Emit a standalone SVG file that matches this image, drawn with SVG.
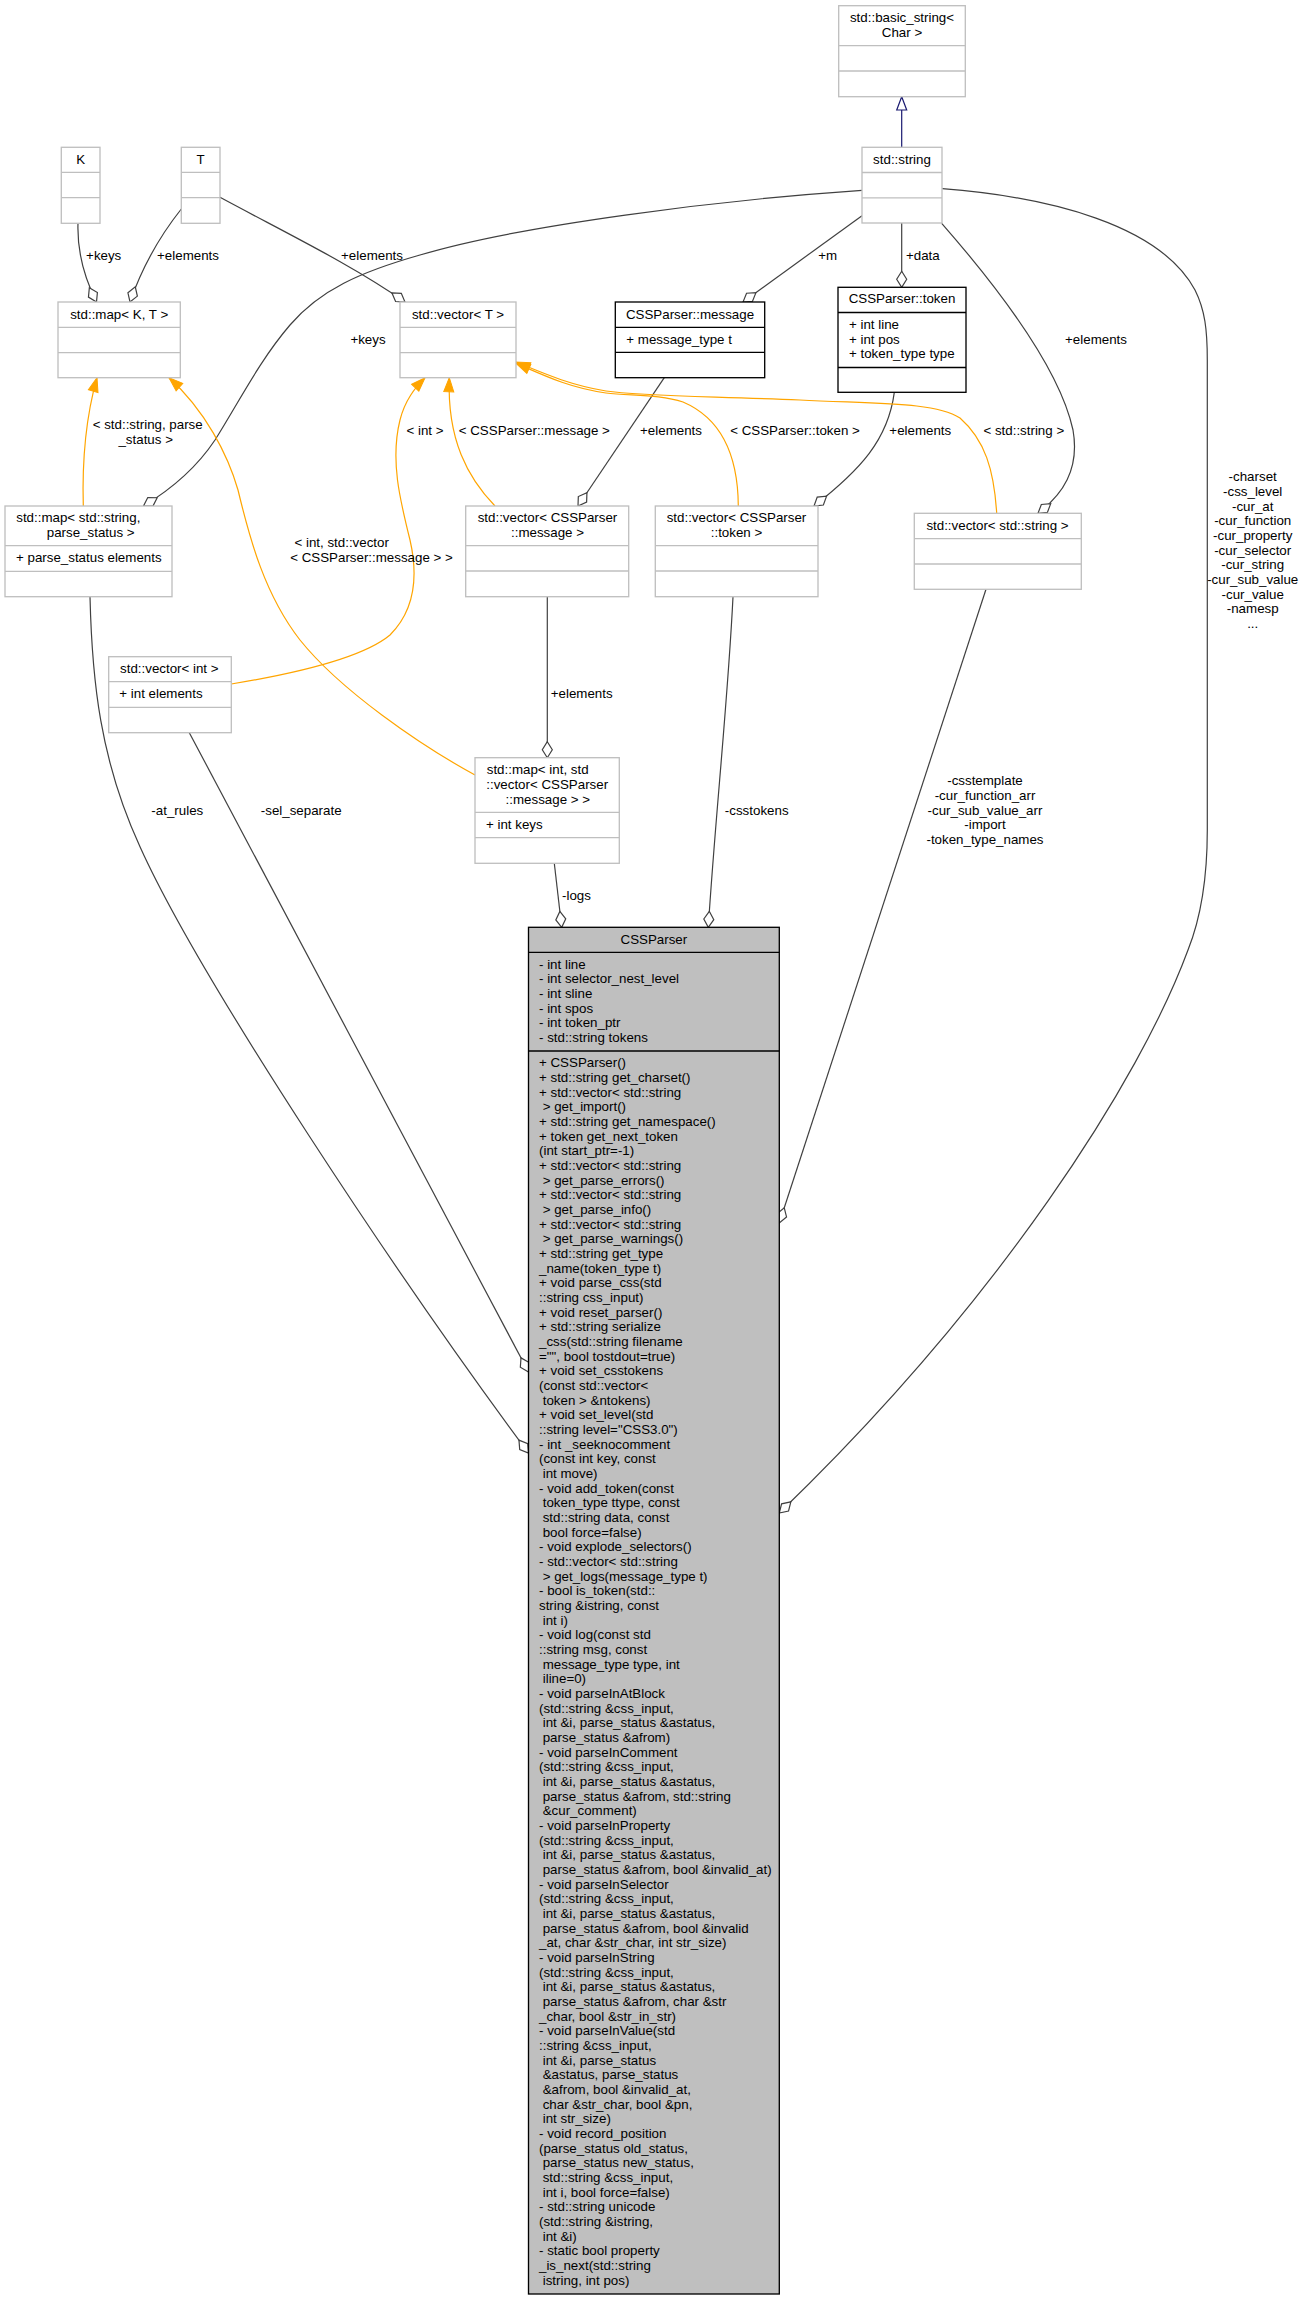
<svg xmlns="http://www.w3.org/2000/svg" width="1302" height="2300" viewBox="0 0 1302 2300">
<style>
text{font-family:"Liberation Sans",Arial,Helvetica,sans-serif;font-size:13.33px;fill:#000}
.m{text-anchor:middle}
.box{fill:#fff;stroke:#bfbfbf;stroke-width:1.33}
.sep{stroke:#bfbfbf;stroke-width:1.33}
.dbox{fill:#fff;stroke:#000;stroke-width:1.33}
.dsep{stroke:#000;stroke-width:1.33}
.mbox{fill:#bfbfbf;stroke:#000;stroke-width:1.33}
.e{fill:none;stroke:#404040;stroke-width:1.2;marker-end:url(#odiamond)}
.t{fill:none;stroke:#ffa500;stroke-width:1.2;marker-end:url(#oarrow)}
.i{fill:none;stroke:#191970;stroke-width:1.2;marker-end:url(#inh)}
</style>
<defs>
<marker id="odiamond" markerUnits="userSpaceOnUse" viewBox="-1 -6 18 12" markerWidth="18" markerHeight="12" refX="16" refY="0" orient="auto" overflow="visible"><path d="M0,0 L8,-5 L16,0 L8,5 Z" fill="#fff" stroke="#404040" stroke-width="1.2"/></marker>
<marker id="oarrow" markerUnits="userSpaceOnUse" viewBox="0 -6 15 12" markerWidth="15" markerHeight="12" refX="14" refY="0" orient="auto" overflow="visible"><path d="M0,-5 L14,0 L0,5 Z" fill="#ffa500" stroke="#ffa500" stroke-width="1"/></marker>
<marker id="inh" markerUnits="userSpaceOnUse" viewBox="0 -6 15 12" markerWidth="15" markerHeight="12" refX="13.3" refY="0" orient="auto" overflow="visible"><path d="M0,-5 L13.3,0 L0,5 Z" fill="#fff" stroke="#191970" stroke-width="1.2"/></marker>
</defs>
<rect width="1302" height="2300" fill="#fff"/>
<g id="connectors">
<path class="i" d="M901.7,147.3 L901.7,96.7"/>
<path class="e" d="M78,223.3 C77,252 84,277 96.5,302"/>
<path class="e" d="M181.3,209 C163,232 144,262 130,302"/>
<path class="e" d="M220,197.3 C290,235 352,265 405,302"/>
<path class="e" d="M862,190.3 C720,200 520,225 420,255 C360,272 320,290 290,325 C260,360 240,400 215,440 C195,470 170,490 143.5,506"/>
<path class="e" d="M862,215.7 L743,302"/>
<path class="e" d="M901.7,223 L901.7,287.3"/>
<path class="e" d="M941.7,223.3 C1000,290 1060,370 1073,430 C1080,470 1062,495 1038,513.3"/>
<path class="e" d="M942.3,188.7 C1050,197 1160,225 1195,290 C1205,310 1207.3,330 1207.3,360 L1207.3,830 C1207.3,880 1200,920 1188,950 C1140,1080 1000,1300 779.3,1513"/>
<path class="e" d="M986,589.3 L779.3,1223"/>
<path class="e" d="M733,596.7 C728,700 715,820 708.3,927.3"/>
<path class="e" d="M554.3,863.3 L561.7,927.3"/>
<path class="e" d="M547.3,596.7 L547.3,757.7"/>
<path class="e" d="M664.3,377.7 L578,506"/>
<path class="e" d="M894.3,392.3 C888,440 860,470 814,506"/>
<path class="e" d="M90,596.7 C92,680 100,760 140,846.7 C200,980 400,1280 528.5,1453"/>
<path class="e" d="M189.3,732.7 L528.5,1372"/>
<path class="t" d="M83.3,506 C82,460 85,420 97,377.7"/>
<path class="t" d="M475,775 C420,745 340,690 300,640 C265,595 250,540 238,490 C228,455 205,410 169,377.7"/>
<path class="t" d="M231.3,684 C280,676 360,660 390,635 C415,610 418,575 410,540 C400,500 390,460 400,420 C405,400 415,388 425,377.7"/>
<path class="t" d="M495,506 C468,478 447,440 449.3,377.7"/>
<path class="t" d="M738.3,506 C738,460 725,420 683,402 C660,394 630,396 606,393 C570,388 545,376 516,363.3"/>
<path class="t" d="M996.7,513.3 C994,470 985,440 960,418 C935,402 880,404 800,400 C700,396 640,396 606,391 C570,385 545,374 516,362"/>
<text class="m" x="103.7" y="259.5">+keys</text>
<text class="m" x="188" y="259.5">+elements</text>
<text class="m" x="372" y="259.5">+elements</text>
<text class="m" x="368" y="343.5">+keys</text>
<text class="m" x="827.7" y="259.5">+m</text>
<text x="906" y="259.5">+data</text>
<text class="m" x="1096" y="343.5">+elements</text>
<text class="m" x="147.7" y="428.5">&lt; std::string, parse</text>
<text class="m" x="145.7" y="443.5">_status &gt;</text>
<text class="m" x="425" y="435.2">&lt; int &gt;</text>
<text class="m" x="534.3" y="435.2">&lt; CSSParser::message &gt;</text>
<text class="m" x="671" y="435.2">+elements</text>
<text class="m" x="795" y="435.2">&lt; CSSParser::token &gt;</text>
<text class="m" x="920.3" y="435.2">+elements</text>
<text class="m" x="1023.8" y="435.2">&lt; std::string &gt;</text>
<text class="m" x="341.7" y="547.2">&lt; int, std::vector</text>
<text class="m" x="371.5" y="562.2">&lt; CSSParser::message &gt; &gt;</text>
<text class="m" x="581.7" y="698.2">+elements</text>
<text class="m" x="177.3" y="814.5">-at_rules</text>
<text class="m" x="301.2" y="814.5">-sel_separate</text>
<text class="m" x="756.7" y="814.5">-csstokens</text>
<text class="m" x="576.5" y="899.5">-logs</text>
<text class="m" y="785.2"><tspan x="985">-csstemplate</tspan><tspan x="985" dy="14.667">-cur_function_arr</tspan><tspan x="985" dy="14.667">-cur_sub_value_arr</tspan><tspan x="985" dy="14.667">-import</tspan><tspan x="985" dy="14.667">-token_type_names</tspan></text>
<text class="m" y="481.2"><tspan x="1252.7">-charset</tspan><tspan x="1252.7" dy="14.667">-css_level</tspan><tspan x="1252.7" dy="14.667">-cur_at</tspan><tspan x="1252.7" dy="14.667">-cur_function</tspan><tspan x="1252.7" dy="14.667">-cur_property</tspan><tspan x="1252.7" dy="14.667">-cur_selector</tspan><tspan x="1252.7" dy="14.667">-cur_string</tspan><tspan x="1252.7" dy="14.667">-cur_sub_value</tspan><tspan x="1252.7" dy="14.667">-cur_value</tspan><tspan x="1252.7" dy="14.667">-namesp</tspan><tspan x="1252.7" dy="14.667">...</tspan></text>
</g>
<g id="node-basic_string">
<rect class="box" x="838.7" y="5.7" width="126.6" height="91"/>
<line class="sep" x1="838.7" y1="45.7" x2="965.3" y2="45.7"/>
<line class="sep" x1="838.7" y1="71" x2="965.3" y2="71"/>
<text class="m" x="902" y="22.2">std::basic_string&lt;</text>
<text class="m" x="902" y="37.2">Char &gt;</text>
</g>
<g id="node-string">
<rect class="box" x="862" y="147.3" width="80" height="75.7"/>
<line class="sep" x1="862" y1="172.5" x2="942" y2="172.5"/>
<line class="sep" x1="862" y1="197.8" x2="942" y2="197.8"/>
<text class="m" x="902" y="163.5">std::string</text>
</g>
<g id="node-K">
<rect class="box" x="61.3" y="147.3" width="38.7" height="76"/>
<line class="sep" x1="61.3" y1="172.3" x2="100" y2="172.3"/>
<line class="sep" x1="61.3" y1="197.7" x2="100" y2="197.7"/>
<text class="m" x="80.7" y="163.5">K</text>
</g>
<g id="node-T">
<rect class="box" x="181.3" y="147.3" width="38.7" height="76"/>
<line class="sep" x1="181.3" y1="172.3" x2="220" y2="172.3"/>
<line class="sep" x1="181.3" y1="197.7" x2="220" y2="197.7"/>
<text class="m" x="200.7" y="163.5">T</text>
</g>
<g id="node-map_KT">
<rect class="box" x="58" y="302" width="122.3" height="75.7"/>
<line class="sep" x1="58" y1="327.3" x2="180.3" y2="327.3"/>
<line class="sep" x1="58" y1="352.7" x2="180.3" y2="352.7"/>
<text class="m" x="119.2" y="318.5">std::map&lt; K, T &gt;</text>
</g>
<g id="node-vector_T">
<rect class="box" x="400" y="302" width="116" height="75.7"/>
<line class="sep" x1="400" y1="327.3" x2="516" y2="327.3"/>
<line class="sep" x1="400" y1="352.7" x2="516" y2="352.7"/>
<text class="m" x="458" y="318.5">std::vector&lt; T &gt;</text>
</g>
<g id="node-message">
<rect class="dbox" x="615.3" y="302" width="149.4" height="75.7"/>
<line class="dsep" x1="615.3" y1="327.3" x2="764.7" y2="327.3"/>
<line class="dsep" x1="615.3" y1="352.3" x2="764.7" y2="352.3"/>
<text class="m" x="690" y="318.5">CSSParser::message</text>
<text x="626.3" y="343.5">+ message_type t</text>
</g>
<g id="node-token">
<rect class="dbox" x="838" y="287.3" width="128" height="105"/>
<line class="dsep" x1="838" y1="312.5" x2="966" y2="312.5"/>
<line class="dsep" x1="838" y1="367.5" x2="966" y2="367.5"/>
<text class="m" x="902" y="303.2">CSSParser::token</text>
<text x="849" y="328.8">+ int line</text>
<text x="849" y="343.5">+ int pos</text>
<text x="849" y="358.2">+ token_type type</text>
</g>
<g id="node-map_string">
<rect class="box" x="5" y="506" width="167" height="90.7"/>
<line class="sep" x1="5" y1="545.7" x2="172" y2="545.7"/>
<line class="sep" x1="5" y1="571.3" x2="172" y2="571.3"/>
<text class="m" x="78.3" y="522.2">std::map&lt; std::string,</text>
<text class="m" x="90.7" y="537.2">parse_status &gt;</text>
<text x="16" y="562.2">+ parse_status elements</text>
</g>
<g id="node-vector_message">
<rect class="box" x="465.7" y="506" width="163" height="90.7"/>
<line class="sep" x1="465.7" y1="545.7" x2="628.7" y2="545.7"/>
<line class="sep" x1="465.7" y1="571" x2="628.7" y2="571"/>
<text class="m" x="547.5" y="522.2">std::vector&lt; CSSParser</text>
<text class="m" x="547.5" y="537.2">::message &gt;</text>
</g>
<g id="node-vector_token">
<rect class="box" x="655.3" y="506" width="162.7" height="90.7"/>
<line class="sep" x1="655.3" y1="545.7" x2="818" y2="545.7"/>
<line class="sep" x1="655.3" y1="571" x2="818" y2="571"/>
<text class="m" x="736.5" y="522.2">std::vector&lt; CSSParser</text>
<text class="m" x="736.5" y="537.2">::token &gt;</text>
</g>
<g id="node-vector_string">
<rect class="box" x="914.3" y="513.3" width="167" height="76"/>
<line class="sep" x1="914.3" y1="538.7" x2="1081.3" y2="538.7"/>
<line class="sep" x1="914.3" y1="564" x2="1081.3" y2="564"/>
<text class="m" x="997.5" y="529.5">std::vector&lt; std::string &gt;</text>
</g>
<g id="node-vector_int">
<rect class="box" x="108.7" y="656.7" width="122.6" height="76"/>
<line class="sep" x1="108.7" y1="681.7" x2="231.3" y2="681.7"/>
<line class="sep" x1="108.7" y1="707.3" x2="231.3" y2="707.3"/>
<text class="m" x="169.3" y="673.2">std::vector&lt; int &gt;</text>
<text x="119.3" y="698.2">+ int elements</text>
</g>
<g id="node-map_int">
<rect class="box" x="475" y="757.7" width="144.3" height="105.6"/>
<line class="sep" x1="475" y1="812.3" x2="619.3" y2="812.3"/>
<line class="sep" x1="475" y1="837.7" x2="619.3" y2="837.7"/>
<text class="m" x="537.7" y="774.2">std::map&lt; int, std</text>
<text class="m" x="547.2" y="788.8">::vector&lt; CSSParser</text>
<text class="m" x="547.8" y="803.5">::message &gt; &gt;</text>
<text x="486" y="828.8">+ int keys</text>
</g>
<g id="node-CSSParser" xml:space="preserve">
<rect class="mbox" x="528.5" y="927.3" width="250.8" height="1366.7"/>
<line class="dsep" x1="528.5" y1="952.3" x2="779.3" y2="952.3"/>
<line class="dsep" x1="528.5" y1="1051" x2="779.3" y2="1051"/>
<text class="m" x="653.9" y="943.5">CSSParser</text>
<text y="968.8"><tspan x="539">- int line</tspan><tspan x="539" dy="14.667">- int selector_nest_level</tspan><tspan x="539" dy="14.667">- int sline</tspan><tspan x="539" dy="14.667">- int spos</tspan><tspan x="539" dy="14.667">- int token_ptr</tspan><tspan x="539" dy="14.667">- std::string tokens</tspan></text>
<text y="1067.2"><tspan x="539">+ CSSParser()</tspan><tspan x="539" dy="14.667">+ std::string get_charset()</tspan><tspan x="539" dy="14.667">+ std::vector&lt; std::string</tspan><tspan x="539" dy="14.667"> &gt; get_import()</tspan><tspan x="539" dy="14.667">+ std::string get_namespace()</tspan><tspan x="539" dy="14.667">+ token get_next_token</tspan><tspan x="539" dy="14.667">(int start_ptr=-1)</tspan><tspan x="539" dy="14.667">+ std::vector&lt; std::string</tspan><tspan x="539" dy="14.667"> &gt; get_parse_errors()</tspan><tspan x="539" dy="14.667">+ std::vector&lt; std::string</tspan><tspan x="539" dy="14.667"> &gt; get_parse_info()</tspan><tspan x="539" dy="14.667">+ std::vector&lt; std::string</tspan><tspan x="539" dy="14.667"> &gt; get_parse_warnings()</tspan><tspan x="539" dy="14.667">+ std::string get_type</tspan><tspan x="539" dy="14.667">_name(token_type t)</tspan><tspan x="539" dy="14.667">+ void parse_css(std</tspan><tspan x="539" dy="14.667">::string css_input)</tspan><tspan x="539" dy="14.667">+ void reset_parser()</tspan><tspan x="539" dy="14.667">+ std::string serialize</tspan><tspan x="539" dy="14.667">_css(std::string filename</tspan><tspan x="539" dy="14.667">="", bool tostdout=true)</tspan><tspan x="539" dy="14.667">+ void set_csstokens</tspan><tspan x="539" dy="14.667">(const std::vector&lt;</tspan><tspan x="539" dy="14.667"> token &gt; &amp;ntokens)</tspan><tspan x="539" dy="14.667">+ void set_level(std</tspan><tspan x="539" dy="14.667">::string level="CSS3.0")</tspan><tspan x="539" dy="14.667">- int _seeknocomment</tspan><tspan x="539" dy="14.667">(const int key, const</tspan><tspan x="539" dy="14.667"> int move)</tspan><tspan x="539" dy="14.667">- void add_token(const</tspan><tspan x="539" dy="14.667"> token_type ttype, const</tspan><tspan x="539" dy="14.667"> std::string data, const</tspan><tspan x="539" dy="14.667"> bool force=false)</tspan><tspan x="539" dy="14.667">- void explode_selectors()</tspan><tspan x="539" dy="14.667">- std::vector&lt; std::string</tspan><tspan x="539" dy="14.667"> &gt; get_logs(message_type t)</tspan><tspan x="539" dy="14.667">- bool is_token(std::</tspan><tspan x="539" dy="14.667">string &amp;istring, const</tspan><tspan x="539" dy="14.667"> int i)</tspan><tspan x="539" dy="14.667">- void log(const std</tspan><tspan x="539" dy="14.667">::string msg, const</tspan><tspan x="539" dy="14.667"> message_type type, int</tspan><tspan x="539" dy="14.667"> iline=0)</tspan><tspan x="539" dy="14.667">- void parseInAtBlock</tspan><tspan x="539" dy="14.667">(std::string &amp;css_input,</tspan><tspan x="539" dy="14.667"> int &amp;i, parse_status &amp;astatus,</tspan><tspan x="539" dy="14.667"> parse_status &amp;afrom)</tspan><tspan x="539" dy="14.667">- void parseInComment</tspan><tspan x="539" dy="14.667">(std::string &amp;css_input,</tspan><tspan x="539" dy="14.667"> int &amp;i, parse_status &amp;astatus,</tspan><tspan x="539" dy="14.667"> parse_status &amp;afrom, std::string</tspan><tspan x="539" dy="14.667"> &amp;cur_comment)</tspan><tspan x="539" dy="14.667">- void parseInProperty</tspan><tspan x="539" dy="14.667">(std::string &amp;css_input,</tspan><tspan x="539" dy="14.667"> int &amp;i, parse_status &amp;astatus,</tspan><tspan x="539" dy="14.667"> parse_status &amp;afrom, bool &amp;invalid_at)</tspan><tspan x="539" dy="14.667">- void parseInSelector</tspan><tspan x="539" dy="14.667">(std::string &amp;css_input,</tspan><tspan x="539" dy="14.667"> int &amp;i, parse_status &amp;astatus,</tspan><tspan x="539" dy="14.667"> parse_status &amp;afrom, bool &amp;invalid</tspan><tspan x="539" dy="14.667">_at, char &amp;str_char, int str_size)</tspan><tspan x="539" dy="14.667">- void parseInString</tspan><tspan x="539" dy="14.667">(std::string &amp;css_input,</tspan><tspan x="539" dy="14.667"> int &amp;i, parse_status &amp;astatus,</tspan><tspan x="539" dy="14.667"> parse_status &amp;afrom, char &amp;str</tspan><tspan x="539" dy="14.667">_char, bool &amp;str_in_str)</tspan><tspan x="539" dy="14.667">- void parseInValue(std</tspan><tspan x="539" dy="14.667">::string &amp;css_input,</tspan><tspan x="539" dy="14.667"> int &amp;i, parse_status</tspan><tspan x="539" dy="14.667"> &amp;astatus, parse_status</tspan><tspan x="539" dy="14.667"> &amp;afrom, bool &amp;invalid_at,</tspan><tspan x="539" dy="14.667"> char &amp;str_char, bool &amp;pn,</tspan><tspan x="539" dy="14.667"> int str_size)</tspan><tspan x="539" dy="14.667">- void record_position</tspan><tspan x="539" dy="14.667">(parse_status old_status,</tspan><tspan x="539" dy="14.667"> parse_status new_status,</tspan><tspan x="539" dy="14.667"> std::string &amp;css_input,</tspan><tspan x="539" dy="14.667"> int i, bool force=false)</tspan><tspan x="539" dy="14.667">- std::string unicode</tspan><tspan x="539" dy="14.667">(std::string &amp;istring,</tspan><tspan x="539" dy="14.667"> int &amp;i)</tspan><tspan x="539" dy="14.667">- static bool property</tspan><tspan x="539" dy="14.667">_is_next(std::string</tspan><tspan x="539" dy="14.667"> istring, int pos)</tspan></text>
</g>
</svg>
